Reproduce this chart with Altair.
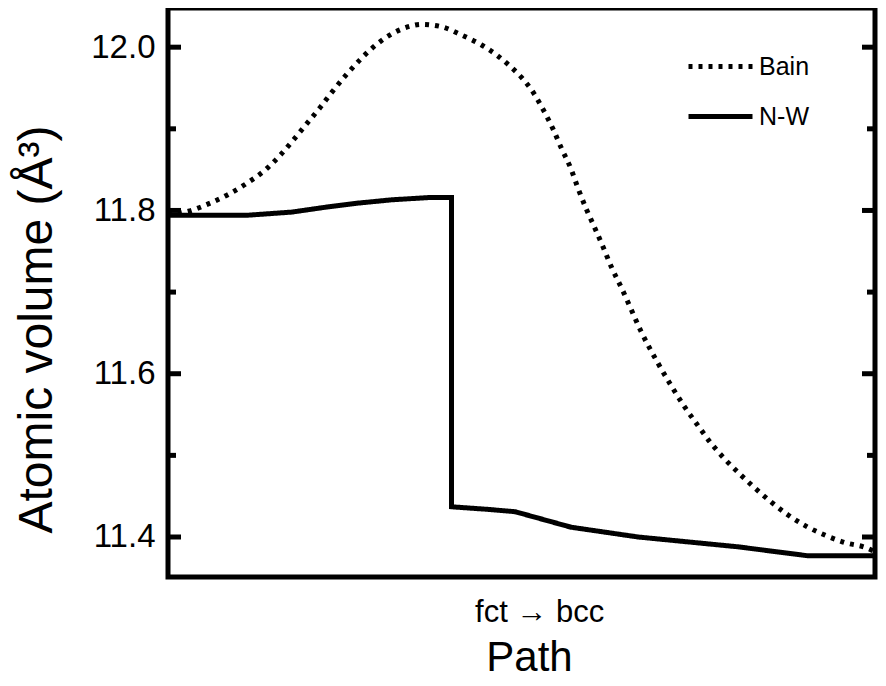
import altair as alt
import pandas as pd

# ---- data ----
bain_t = [0.000, 0.029, 0.057, 0.086, 0.111, 0.138, 0.159, 0.177, 0.196, 0.216,
          0.231, 0.252, 0.272, 0.293, 0.316, 0.344, 0.358, 0.387, 0.415, 0.443,
          0.467, 0.486, 0.500, 0.517, 0.531, 0.545, 0.556, 0.570, 0.580, 0.592,
          0.604, 0.616, 0.627, 0.641, 0.654, 0.669, 0.693, 0.712, 0.731, 0.750,
          0.767, 0.788, 0.809, 0.830, 0.853, 0.877, 0.903, 0.930, 0.958, 0.987, 1.000]
bain_v = [11.795, 11.799, 11.808, 11.820, 11.833, 11.850, 11.868, 11.886, 11.906, 11.927,
          11.944, 11.966, 11.985, 12.002, 12.016, 12.026, 12.028, 12.025, 12.015, 12.003,
          11.989, 11.975, 11.963, 11.944, 11.923, 11.899, 11.877, 11.851, 11.827, 11.801,
          11.778, 11.754, 11.731, 11.706, 11.681, 11.652, 11.613, 11.585, 11.559, 11.536,
          11.516, 11.495, 11.477, 11.460, 11.443, 11.427, 11.413, 11.402, 11.393, 11.387, 11.382]

nw_t = [0.000, 0.110, 0.175, 0.223, 0.269, 0.316, 0.372, 0.401, 0.401, 0.450,
        0.491, 0.570, 0.665, 0.806, 0.905, 1.000]
nw_v = [11.794, 11.794, 11.798, 11.804, 11.809, 11.813, 11.816, 11.816, 11.437, 11.434,
        11.431, 11.412, 11.400, 11.388, 11.377, 11.377]

series_names = ["Bain", "N-W"]
y_major = [11.4, 11.6, 11.8, 12.0]
y_minor = [11.5, 11.7, 11.9]
x_tick_pos = [0.525]
x_tick_label = "fct \u2192 bcc"
x_title = "Path"
y_title = "Atomic volume (\u00c5\u00b3)"

bain_df = pd.DataFrame({"t": bain_t, "v": bain_v, "series": series_names[0],
                        "i": list(range(len(bain_t)))})
nw_df = pd.DataFrame({"t": nw_t, "v": nw_v, "series": series_names[1],
                      "i": list(range(len(nw_t)))})
major_df = pd.DataFrame({"v": y_major})
minor_df = pd.DataFrame({"v": y_minor})

W, H = 707, 569
FONT = "Liberation Sans"

x_enc = alt.X(
    "t:Q",
    title=x_title,
    scale=alt.Scale(domain=[0, 1], nice=False, zero=False),
    axis=alt.Axis(
        values=x_tick_pos, labelExpr="'" + x_tick_label + "'",
        labelFontSize=31, labelPadding=20,
        titleFontSize=42, titleX=361, titleY=93,
        titleBaseline="alphabetic", titleAlign="center",
    ),
)

y_enc = alt.Y(
    "v:Q",
    title=y_title,
    scale=alt.Scale(domain=[11.351, 12.048], nice=False, zero=False),
    axis=alt.Axis(
        values=y_major, format=".1f", labelFontSize=33, labelPadding=13,
        titleFontSize=48, titleX=-117, titleY=321, titleAngle=270,
        titleBaseline="alphabetic", titleAlign="center",
    ),
)

dash_enc = alt.StrokeDash(
    "series:N",
    scale=alt.Scale(domain=series_names, range=[[4, 6], [1, 0]]),
    legend=alt.Legend(
        title=None, orient="none", legendX=518, legendY=24,
        symbolType="stroke", symbolSize=4096, symbolStrokeWidth=5,
        symbolStrokeColor="black", labelFontSize=25, labelFont=FONT,
        labelColor="black", labelOffset=4, padding=0, rowPadding=2,
    ),
)

bain_line = alt.Chart(bain_df).mark_line(
    color="black", strokeWidth=5, interpolate="monotone"
).encode(x=x_enc, y=y_enc, strokeDash=dash_enc, order=alt.Order("i:Q"))

nw_line = alt.Chart(nw_df).mark_line(
    color="black", strokeWidth=5
).encode(x=x_enc, y=y_enc, strokeDash=dash_enc, order=alt.Order("i:Q"))

def tick_layer(data, x0, x1):
    return alt.Chart(data).mark_rule(color="black", strokeWidth=5).encode(
        x=alt.value(x0), x2=alt.value(x1), y=y_enc
    )

chart = alt.layer(
    bain_line,
    nw_line,
    tick_layer(major_df, 0, 13),
    tick_layer(minor_df, 0, 8),
    tick_layer(major_df, W - 13, W),
    tick_layer(minor_df, W - 8, W),
).properties(
    width=W, height=H,
    autosize=alt.AutoSizeParams(type="none"),
    padding={"left": 160, "top": 0, "right": 3, "bottom": 102},
    background="white",
).configure_view(
    stroke="black", strokeWidth=5
).configure_axis(
    labelFont=FONT, titleFont=FONT, labelColor="black", titleColor="black",
    titleFontWeight="normal", grid=False, domain=False, ticks=False, tickSize=0,
)

chart.save("out.html", embed_options={"renderer": "svg", "actions": False})
